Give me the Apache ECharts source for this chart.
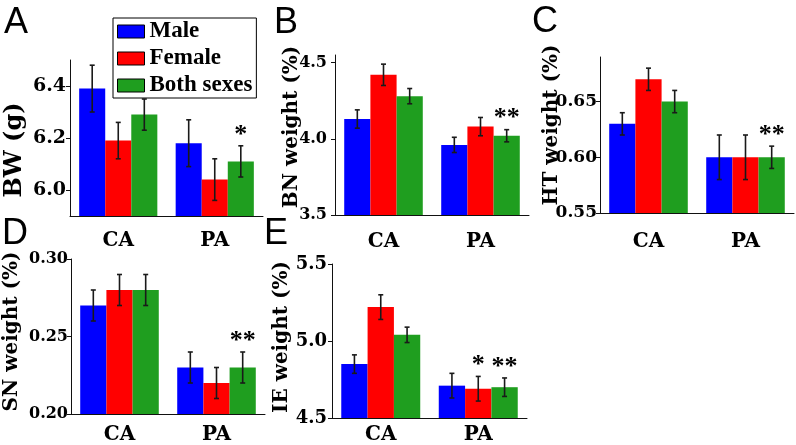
<!DOCTYPE html>
<html>
<head>
<meta charset="utf-8">
<script src="https://cdn.jsdelivr.net/npm/echarts@6/dist/echarts.min.js"></script>
<style>html,body{margin:0;padding:0;background:#fff}#c{width:796px;height:445px}</style>
</head>
<body>
<div id="c"></div>
<script>
const categories = ['CA', 'PA'];
const seriesNames = ['Male', 'Female', 'Both sexes'];
const colors = ['#0000ff', '#ff0000', '#1f9e1f'];

// Panel A: BW (g)
const aMale = [6.39, 6.18], aMaleErr = [0.09, 0.09];
const aFemale = [6.19, 6.04], aFemaleErr = [0.07, 0.08];
const aBoth = [6.29, 6.11], aBothErr = [0.06, 0.06];
const aStarsMale = ['', ''], aStarsFemale = ['', ''], aStarsBoth = ['', '*'];
const aTicks = [6.0, 6.2, 6.4];

// Panel B: BN weight (%)
const bMale = [4.13, 3.96], bMaleErr = [0.06, 0.05];
const bFemale = [4.42, 4.08], bFemaleErr = [0.07, 0.06];
const bBoth = [4.28, 4.02], bBothErr = [0.05, 0.04];
const bStarsMale = ['', ''], bStarsFemale = ['', ''], bStarsBoth = ['', '**'];
const bTicks = [3.5, 4.0, 4.5];

// Panel C: HT weight (%)
const cMale = [0.63, 0.60], cMaleErr = [0.01, 0.02];
const cFemale = [0.67, 0.60], cFemaleErr = [0.01, 0.02];
const cBoth = [0.65, 0.60], cBothErr = [0.01, 0.01];
const cStarsMale = ['', ''], cStarsFemale = ['', ''], cStarsBoth = ['', '**'];
const cTicks = [0.55, 0.60, 0.65];

// Panel D: SN weight (%)
const dMale = [0.27, 0.23], dMaleErr = [0.01, 0.01];
const dFemale = [0.28, 0.22], dFemaleErr = [0.01, 0.01];
const dBoth = [0.28, 0.23], dBothErr = [0.01, 0.01];
const dStarsMale = ['', ''], dStarsFemale = ['', ''], dStarsBoth = ['', '**'];
const dTicks = [0.20, 0.25, 0.30];

// Panel E: IE weight (%)
const eMale = [4.85, 4.71], eMaleErr = [0.06, 0.08];
const eFemale = [5.22, 4.69], eFemaleErr = [0.08, 0.08];
const eBoth = [5.04, 4.70], eBothErr = [0.05, 0.06];
const eStarsMale = ['', ''], eStarsFemale = ['', '*'], eStarsBoth = ['', '**'];
const eTicks = [4.5, 5.0, 5.5];

const panelLetters = ['A', 'B', 'C', 'D', 'E'];
const yNames = ['BW (g)', 'BN weight (%)', 'HT weight (%)', 'SN weight (%)', 'IE weight (%)'];

const panels = [
  {vals: [aMale, aFemale, aBoth], errs: [aMaleErr, aFemaleErr, aBothErr], stars: [aStarsMale, aStarsFemale, aStarsBoth], ticks: aTicks, min: 5.9, max: 6.5, dec: 1},
  {vals: [bMale, bFemale, bBoth], errs: [bMaleErr, bFemaleErr, bBothErr], stars: [bStarsMale, bStarsFemale, bStarsBoth], ticks: bTicks, min: 3.5, max: 4.55, dec: 1},
  {vals: [cMale, cFemale, cBoth], errs: [cMaleErr, cFemaleErr, cBothErr], stars: [cStarsMale, cStarsFemale, cStarsBoth], ticks: cTicks, min: 0.55, max: 0.69, dec: 2},
  {vals: [dMale, dFemale, dBoth], errs: [dMaleErr, dFemaleErr, dBothErr], stars: [dStarsMale, dStarsFemale, dStarsBoth], ticks: dTicks, min: 0.20, max: 0.30, dec: 2},
  {vals: [eMale, eFemale, eBoth], errs: [eMaleErr, eFemaleErr, eBothErr], stars: [eStarsMale, eStarsFemale, eStarsBoth], ticks: eTicks, min: 4.5, max: 5.5, dec: 1}
];

const grids = [
  {left: 70, top: 60, width: 193, height: 156},
  {left: 335, top: 55, width: 194, height: 160},
  {left: 600, top: 57, width: 194, height: 156},
  {left: 71, top: 259, width: 194, height: 155},
  {left: 332, top: 264, width: 195, height: 155}
];
const xMargins = [15, 17, 19, 11, 7];
const yLabelMargins = [4, 8, 3, 3, 5];
const yLabelSizes = [19, 16, 17, 16, 18];
const nameGaps = [43, 33, 38, 49, 40];
const nameSizes = [24, 20, 20, 20, 20];
const namePads = [[0, 24, 0, 0], [0, 0, 0, 16], [0, 0, 0, 20], [0, 0, 0, 10], [0, 0, 0, 8]];
const letterPos = [[4, 5], [274, 5], [532, 4], [2, 216], [264, 216]];

const GAP = 0.19;
const serifBold = 'DejaVu Serif';

const option = {
  animation: false,
  backgroundColor: '#fff',
  title: panelLetters.map((t, i) => ({
    text: t, left: letterPos[i][0], top: letterPos[i][1], padding: 0,
    textStyle: {fontFamily: 'Liberation Sans', fontWeight: 'normal', fontSize: 36, color: '#000'}
  })),
  legend: {
    data: seriesNames, orient: 'vertical', left: 113, top: 18,
    itemWidth: 27, itemHeight: 13, itemGap: 4, padding: [2, 4, 1, 4],
    borderColor: '#000', borderWidth: 1, icon: 'rect',
    itemStyle: {borderColor: '#000', borderWidth: 1},
    textStyle: {fontFamily: 'Liberation Serif', fontWeight: 'bold', fontSize: 23, color: '#000'}
  },
  grid: grids,
  xAxis: grids.map((g, i) => ({
    gridIndex: i, type: 'category', data: categories,
    axisLine: {lineStyle: {color: '#111', width: 1}},
    axisTick: {show: false},
    axisLabel: {margin: xMargins[i], color: '#000', fontFamily: serifBold, fontWeight: 'bold', fontSize: 20}
  })),
  yAxis: panels.map((p, i) => ({
    gridIndex: i, type: 'value', min: p.min, max: p.max,
    name: yNames[i], nameLocation: 'middle', nameGap: nameGaps[i], nameMoveOverlap: false,
    nameTextStyle: {fontFamily: serifBold, fontWeight: 'bold', fontSize: nameSizes[i], color: '#000', padding: namePads[i]},
    axisLine: {show: true, lineStyle: {color: '#111', width: 1}},
    axisTick: {show: true, length: 4, customValues: p.ticks, lineStyle: {color: '#111'}},
    splitLine: {show: false},
    axisLabel: {customValues: p.ticks, margin: yLabelMargins[i], color: '#000', fontFamily: serifBold, fontWeight: 'bold', fontSize: yLabelSizes[i],
      formatter: v => Number(v).toFixed(p.dec)}
  })),
  series: []
};

panels.forEach((p, gi) => {
  for (let s = 0; s < 3; s++) {
    option.series.push({
      name: seriesNames[s], type: 'bar', xAxisIndex: gi, yAxisIndex: gi,
      data: p.vals[s], barGap: 0, barCategoryGap: (GAP * 100) + '%',
      itemStyle: {color: colors[s]}
    });
  }
  for (let s = 0; s < 3; s++) {
    const stars = p.stars[s];
    option.series.push({
      name: 'err' + gi + '_' + s, type: 'custom', xAxisIndex: gi, yAxisIndex: gi, z: 5,
      data: p.vals[s].map((v, k) => [k, v, p.errs[s][k]]),
      renderItem: (params, api) => {
        const c = api.value(0), v = api.value(1), e = api.value(2);
        const center = api.coord([c, v]);
        const catW = api.size([1, 0])[0];
        const bw = catW * (1 - GAP) / 3;
        const x = center[0] + (s - 1) * bw;
        const top = api.coord([c, v + e])[1];
        const bot = api.coord([c, v - e])[1];
        const st = {stroke: '#1a1a1a', lineWidth: 1.6};
        const children = [
          {type: 'line', shape: {x1: x, y1: top, x2: x, y2: bot}, style: st},
          {type: 'line', shape: {x1: x - 2.5, y1: top, x2: x + 2.5, y2: top}, style: st},
          {type: 'line', shape: {x1: x - 2.5, y1: bot, x2: x + 2.5, y2: bot}, style: st}
        ];
        const star = stars[params.dataIndex];
        if (star) {
          children.push({type: 'text', style: {text: star, x: x, y: top - 11, align: 'center', verticalAlign: 'middle',
            font: 'bold 26px "Liberation Serif"', fill: '#000'}});
        }
        return {type: 'group', children};
      }
    });
  }
});

const chart = echarts.init(document.getElementById('c'), null, {renderer: 'canvas'});
chart.setOption(option);
</script>
</body>
</html>
